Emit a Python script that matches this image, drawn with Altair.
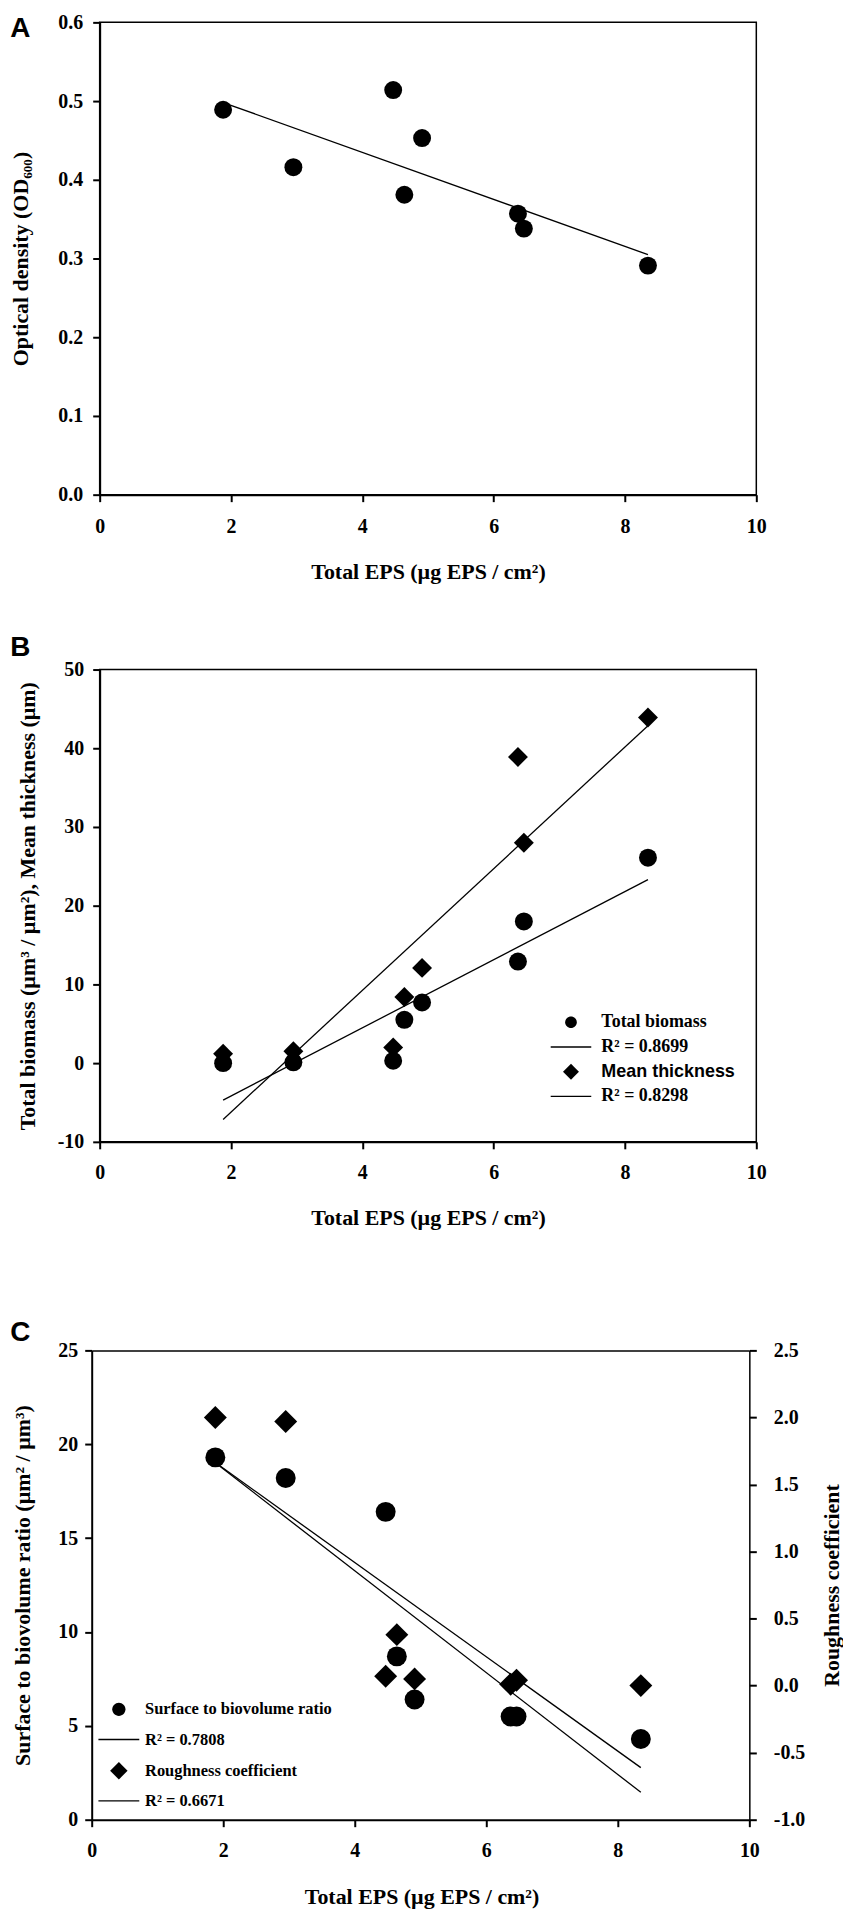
import altair as alt
import pandas as pd

# ---------------- data ----------------
EPS = [1.88, 2.95, 4.47, 4.64, 4.91, 6.37, 6.46, 8.35]          # Total EPS (ug EPS / cm2)
OD600 = [0.489, 0.416, 0.514, 0.381, 0.453, 0.357, 0.338, 0.291]
BIOMASS = [0.0, 0.1, 0.3, 5.5, 7.7, 12.9, 18.0, 26.1]
THICKNESS = [1.2, 1.5, 2.0, 8.4, 12.1, 38.9, 28.0, 43.9]
SBV = [19.3, 18.2, 16.4, 8.7, 6.4, 5.5, 5.5, 4.3]
ROUGH = [2.00, 1.97, 0.07, 0.38, 0.05, 0.01, 0.04, 0.00]

X_TICKS = [0, 2, 4, 6, 8, 10]
A_Y_TICKS = [0.0, 0.1, 0.2, 0.3, 0.4, 0.5, 0.6]
B_Y_TICKS = [-10, 0, 10, 20, 30, 40, 50]
C_Y_TICKS = [0, 5, 10, 15, 20, 25]
C_Y2_TICKS = [-1.0, -0.5, 0.0, 0.5, 1.0, 1.5, 2.0, 2.5]

B_LEGEND = ["Total biomass", "R² = 0.8699", "Mean thickness", "R² = 0.8298"]
C_LEGEND = ["Surface to biovolume ratio", "R² = 0.7808", "Roughness coefficient", "R² = 0.6671"]

X_TITLE = "Total EPS (µg EPS / cm²)"
A_Y_TITLE = "Optical density (OD₆₀₀)"
B_Y_TITLE = "Total biomass (µm³ / µm²), Mean thickness (µm)"
C_Y_TITLE = "Surface to biovolume ratio (µm² / µm³)"
C_Y2_TITLE = "Roughness coefficient"
PANEL_LETTERS = ["A", "B", "C"]

SERIF = "Liberation Serif"
SANS = "Liberation Sans"
MINUS_FIX = "replace(format(datum.value, '{f}'), '\u2212', '-')"


def circle_path(r):
    return f"M{r},0A{r},{r},0,1,1,{-r},0A{r},{r},0,1,1,{r},0Z"


def diamond_path(r):
    return f"M0,{-r}L{r},0L0,{r}L{-r},0Z"


def bar_path(r, t=0.14):
    # a thin filled bar, used as the legend line sample
    return f"M{-r},{-t}H{r}V{t}H{-r}Z"


B_SHAPES = [circle_path(1.17), bar_path(4.07), diamond_path(1.6), bar_path(4.07)]
C_SHAPES = [circle_path(1.33), bar_path(4.1), diamond_path(1.75), bar_path(4.1)]


def panel_letter(letter, ypix):
    df = pd.DataFrame({"t": [letter]})
    return alt.Chart(df).mark_text(align="left", baseline="alphabetic", font=SANS, fontSize=28,
                                   fontWeight="bold", color="black").encode(
        text="t:N", x=alt.value(-89.8), y=alt.value(ypix))


def legend_layer(labels, shapes, lx, ly, fsize, loff, rpad, font):
    df = pd.DataFrame({"item": labels})
    return alt.Chart(df).mark_point(filled=True, color="black", opacity=0).encode(
        shape=alt.Shape("item:N", scale=alt.Scale(domain=labels, range=shapes),
                        legend=alt.Legend(title=None, orient="none", legendX=lx, legendY=ly,
                                          symbolSize=100, symbolFillColor="black",
                                          symbolStrokeWidth=0, symbolOpacity=1, labelFont=font,
                                          labelFontWeight="bold", labelFontSize=fsize,
                                          labelColor="black", labelOffset=loff, rowPadding=rpad,
                                          labelLimit=400, padding=0)))


W_AB, H_AB = 659, 474
W_C, H_C = 652, 471

# ---------------- panel A ----------------
dfA = pd.DataFrame({"eps": EPS, "od": OD600})
xA = alt.X("eps:Q", scale=alt.Scale(domain=[0, 10], nice=False, zero=False),
           axis=alt.Axis(values=X_TICKS, format="d", title=X_TITLE, titleX=W_AB / 2, titleY=84,
                         titleBaseline="alphabetic", labelPadding=15, labelFlush=False))
yA = alt.Y("od:Q", scale=alt.Scale(domain=[0, 0.6], nice=False, zero=False),
           axis=alt.Axis(values=A_Y_TICKS, format=".1f", title=A_Y_TITLE, titleX=-72.4,
                         titleY=H_AB / 2, titleAngle=270, titleAlign="center",
                         titleBaseline="alphabetic", labelPadding=10, labelFlush=False))
lineA = alt.Chart(dfA).transform_regression("eps", "od").mark_line(
    color="black", strokeWidth=1.3).encode(x=xA, y=yA)
ptsA = alt.Chart(dfA).mark_point(shape="circle", filled=True, size=324, color="black",
                                 opacity=1).encode(x=xA, y=yA)
A = alt.layer(lineA, ptsA, panel_letter(PANEL_LETTERS[0], 14.3)).properties(width=W_AB, height=H_AB)

# ---------------- panel B ----------------
dfB = pd.DataFrame({"eps": EPS, "biomass": BIOMASS, "thickness": THICKNESS})
xB = alt.X("eps:Q", scale=alt.Scale(domain=[0, 10], nice=False, zero=False),
           axis=alt.Axis(values=X_TICKS, format="d", title=X_TITLE, titleX=W_AB / 2, titleY=82.5,
                         titleBaseline="alphabetic", labelPadding=14, labelFlush=False))
yscaleB = alt.Scale(domain=[-10, 50], nice=False, zero=False)
yaxisB = alt.Axis(values=B_Y_TICKS, labelExpr=MINUS_FIX.format(f="d"), title=B_Y_TITLE,
                  titleX=-65, titleY=H_AB / 2, titleAngle=270, titleAlign="center",
                  titleBaseline="alphabetic", labelPadding=9, labelFlush=False)
yB1 = alt.Y("biomass:Q", scale=yscaleB, axis=yaxisB)
yB2 = alt.Y("thickness:Q", scale=yscaleB, axis=yaxisB)
lineB1 = alt.Chart(dfB).transform_regression("eps", "biomass").mark_line(
    color="black", strokeWidth=1.3).encode(x=xB, y=yB1)
lineB2 = alt.Chart(dfB).transform_regression("eps", "thickness").mark_line(
    color="black", strokeWidth=1.3).encode(x=xB, y=yB2)
ptsB1 = alt.Chart(dfB).mark_point(shape="circle", filled=True, size=324, color="black",
                                  opacity=1).encode(x=xB, y=yB1)
ptsB2 = alt.Chart(dfB).mark_point(shape="diamond", filled=True, size=400, color="black",
                                  opacity=1).encode(x=xB, y=yB2)
legB = legend_layer(B_LEGEND, B_SHAPES, 464, 345, 18, 21.5, 6.8,
                    {"expr": "datum.label === 'Mean thickness' ? 'Liberation Sans' : 'Liberation Serif'"})
B = alt.layer(lineB1, lineB2, ptsB1, ptsB2, legB, panel_letter(PANEL_LETTERS[1], -13.7)).properties(
    width=W_AB, height=H_AB)

# ---------------- panel C ----------------
dfC = pd.DataFrame({"eps": EPS, "sbv": SBV, "rough": ROUGH})
xscaleC = alt.Scale(domain=[0, 10], nice=False, zero=False, range=[-8, W_C])
xC_bottom = alt.X("eps:Q", scale=xscaleC,
                  axis=alt.Axis(values=X_TICKS, format="d", title=X_TITLE, titleX=323, titleY=84,
                                titleBaseline="alphabetic", labelPadding=14, labelFlush=False))
xC_top = alt.X("eps:Q", scale=xscaleC,
               axis=alt.Axis(orient="top", labels=False, ticks=False, title=None, domain=True,
                             domainWidth=1.5))
yscaleC = alt.Scale(domain=[0, 25], nice=False, zero=False)
yaxisC = alt.Axis(values=C_Y_TICKS, format="d", title=C_Y_TITLE, offset=8, titleX=-62,
                  titleY=H_C / 2, titleAngle=270, titleAlign="center", titleBaseline="alphabetic",
                  labelPadding=7, labelFlush=False)
yscaleC2 = alt.Scale(domain=[-1, 2.5], nice=False, zero=False)
yaxisC2 = alt.Axis(orient="right", values=C_Y2_TICKS, labelExpr=MINUS_FIX.format(f=".1f"),
                   title=C_Y2_TITLE, titleX=89.5, titleY=H_C / 2, titleAngle=270,
                   titleAlign="center", titleBaseline="alphabetic", labelPadding=17,
                   domainWidth=1.5, labelFlush=False)
yC1 = alt.Y("sbv:Q", scale=yscaleC, axis=yaxisC)
yC2 = alt.Y("rough:Q", scale=yscaleC2, axis=yaxisC2)

lineC1 = alt.Chart(dfC).transform_regression("eps", "sbv").mark_line(
    color="black", strokeWidth=1.3).encode(x=xC_bottom, y=yC1)
ptsC1 = alt.Chart(dfC).mark_point(shape="circle", filled=True, size=400, color="black",
                                  opacity=1).encode(x=xC_bottom, y=yC1)
legC = legend_layer(C_LEGEND, C_SHAPES, 11, 352, 16.5, 18, 13.3, SERIF)
lineC2 = alt.Chart(dfC).transform_regression("eps", "rough").mark_line(
    color="black", strokeWidth=1.3).encode(x=xC_top, y=yC2)
ptsC2 = alt.Chart(dfC).mark_point(shape="diamond", filled=True, size=529, color="black",
                                  opacity=1).encode(x=xC_top, y=yC2)

leftC = alt.layer(lineC1, ptsC1, legC, panel_letter(PANEL_LETTERS[2], -9.7))
rightC = alt.layer(lineC2, ptsC2)
C = alt.layer(leftC, rightC).resolve_scale(y="independent").resolve_axis(x="independent").properties(
    width=W_C, height=H_C, view=alt.ViewBackground(strokeOpacity=0))

top = alt.vconcat(A, B, spacing=49.5).resolve_scale(shape="independent").resolve_legend(shape="independent")
chart = alt.vconcat(top, C, spacing=89.8).resolve_scale(shape="independent").resolve_legend(
    shape="independent").properties(
    padding={"left": 0, "top": 0, "right": 0, "bottom": 0}
).configure_axis(
    labelFont=SERIF, labelFontWeight="bold", labelFontSize=20, labelColor="black",
    titleFont=SERIF, titleFontWeight="bold", titleFontSize=22, titleColor="black",
    tickSize=7, tickWidth=2, tickColor="black", domainColor="black", domainWidth=2,
    grid=False
).configure_view(stroke="black", strokeWidth=1.5)

chart.save("out.html", embed_options={"renderer": "svg", "actions": False})
